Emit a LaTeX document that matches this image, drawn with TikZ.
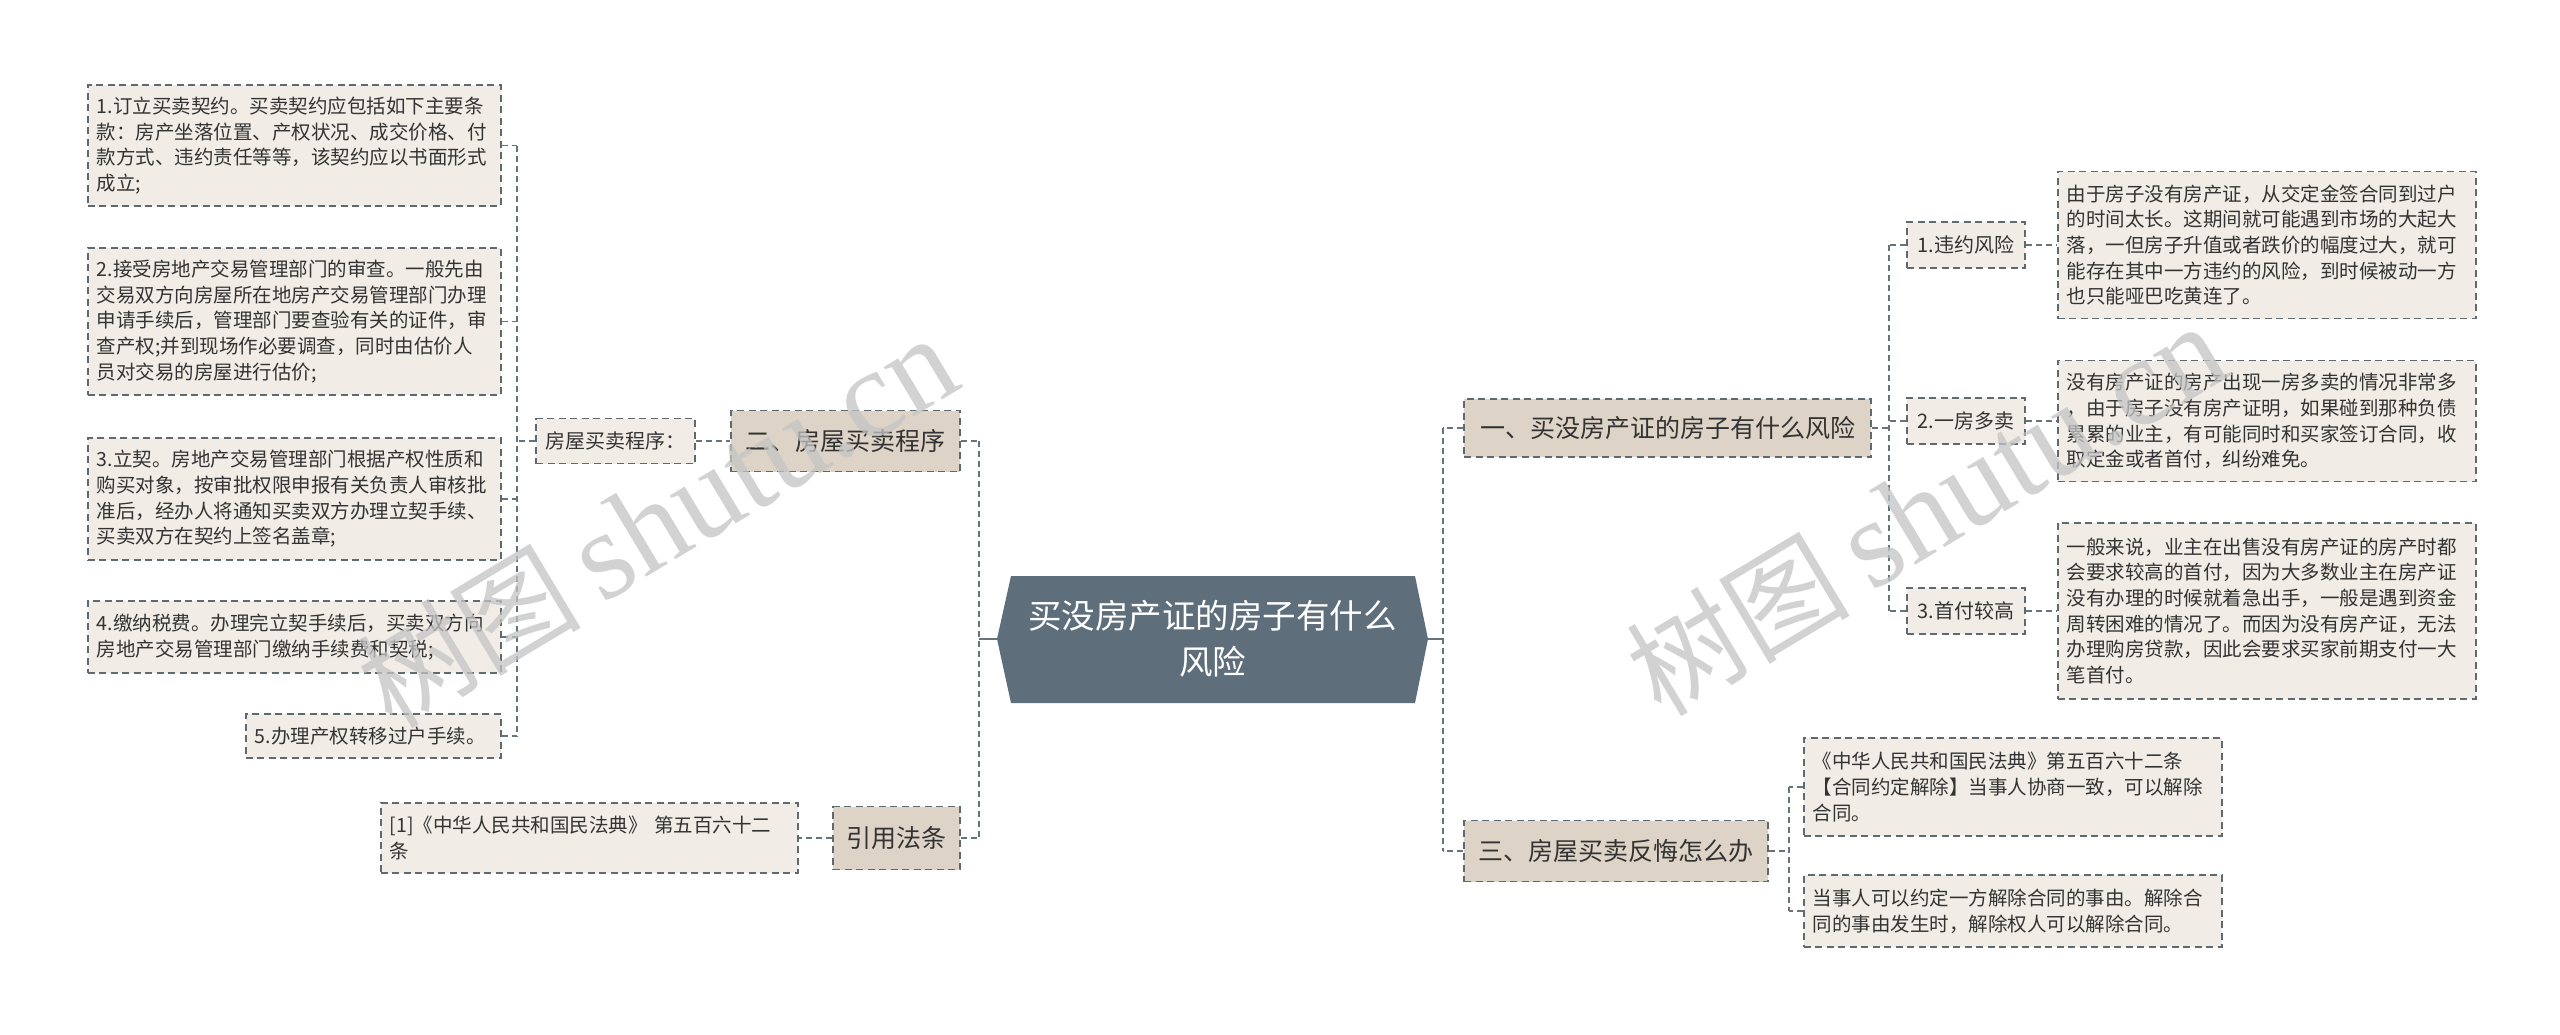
\documentclass[tikz,border=0pt]{standalone}
\usepackage{fontspec}
\setmainfont{Noto Sans CJK SC}
\newfontfamily\wmserif{Liberation Serif}
\definecolor{leaffill}{HTML}{F1EDE6}
\definecolor{lvlfill}{HTML}{DDD4C7}
\definecolor{bordergray}{HTML}{5F6A70}
\definecolor{linegray}{HTML}{66737B}
\definecolor{rootfill}{HTML}{5E6F7B}
\definecolor{txtgray}{HTML}{333333}
\definecolor{wmgray}{HTML}{C4C4C4}
\begin{document}
\begin{tikzpicture}[x=1pt,y=-1pt,
  box/.style={draw=bordergray, line width=1.6pt, dash pattern=on 7pt off 4.5pt, text=txtgray},
  leaf/.style={box, fill=leaffill, align=left, inner xsep=9pt, inner ysep=6pt, font=\fontsize{19.5}{25.7}\selectfont, anchor=west},
  lvlone/.style={box, fill=lvlfill, font=\fontsize{25}{30}\selectfont, inner sep=0pt},
  lvltwo/.style={box, fill=leaffill, font=\fontsize{20}{24}\selectfont, inner sep=0pt},
  conn/.style={draw=linegray, line width=1.8pt, dash pattern=on 6pt off 4pt},
  stub/.style={draw=linegray, line width=2pt},
  wmark/.style={rotate=31, text=wmgray, opacity=0.75, inner sep=0pt}
]
\useasboundingbox (0,0) rectangle (2560,1034);
\fill[white] (0,0) rectangle (2560,1034);

% root
\fill[rootfill] (997,639) -- (1011,576) -- (1415,576) -- (1428,639) -- (1415,703) -- (1011,703) -- cycle;
\node[text=white, font=\fontsize{33.5}{46}\selectfont, align=center, minimum width=431pt, minimum height=127pt, inner sep=0pt, outer sep=0pt] (root) at (1212.5,639) {买没房产证的房子有什么\\风险};

% level one
\node[lvlone, minimum width=229pt, minimum height=61pt] (n2) at (845.5,441) {二、房屋买卖程序};
\node[lvlone, minimum width=127pt, minimum height=63pt] (yin) at (896.5,838) {引用法条};
\node[lvlone, minimum width=407pt, minimum height=58pt] (n1) at (1667.5,428) {一、买没房产证的房子有什么风险};
\node[lvlone, minimum width=304pt, minimum height=61pt] (n3) at (1616,851) {三、房屋买卖反悔怎么办};

% level two
\node[lvltwo, minimum width=159pt, minimum height=45pt] (cx) at (615.5,441) {房屋买卖程序：};
\node[lvltwo, minimum width=118pt, minimum height=46pt] (r1) at (1966,245) {1.违约风险};
\node[lvltwo, minimum width=118pt, minimum height=46pt] (r2) at (1966,421) {2.一房多卖};
\node[lvltwo, minimum width=118pt, minimum height=46pt] (r3) at (1966,611) {3.首付较高};

% left leaves
\node[leaf, text width=395pt, minimum height=121pt] (L1) at (87,145.5) {1.订立买卖契约。买卖契约应包括如下主要条\\款：房产坐落位置、产权状况、成交价格、付\\款方式、违约责任等等，该契约应以书面形式\\成立;};
\node[leaf, text width=395pt, minimum height=147pt] (L2) at (87,321.5) {2.接受房地产交易管理部门的审查。一般先由\\交易双方向房屋所在地房产交易管理部门办理\\申请手续后，管理部门要查验有关的证件，审\\查产权;并到现场作必要调查，同时由估价人\\员对交易的房屋进行估价;};
\node[leaf, text width=395pt, minimum height=122pt] (L3) at (87,499) {3.立契。房地产交易管理部门根据产权性质和\\购买对象，按审批权限申报有关负责人审核批\\准后，经办人将通知买卖双方办理立契手续、\\买卖双方在契约上签名盖章;};
\node[leaf, text width=395pt, minimum height=72pt] (L4) at (87,637) {4.缴纳税费。办理完立契手续后，买卖双方向\\房地产交易管理部门缴纳手续费和契税;};
\node[leaf, text width=237pt, minimum height=44pt] (L5) at (245,736) {5.办理产权转移过户手续。};
\node[leaf, text width=399pt, minimum height=70pt] (ref) at (380,838) {[1]《中华人民共和国民法典》 第五百六十二\\条};

% right leaves
\node[leaf, text width=400pt, minimum height=147pt] (T1) at (2057,245) {由于房子没有房产证，从交定金签合同到过户\\的时间太长。这期间就可能遇到市场的大起大\\落，一但房子升值或者跌价的幅度过大，就可\\能存在其中一方违约的风险，到时候被动一方\\也只能哑巴吃黄连了。};
\node[leaf, text width=400pt, minimum height=121pt] (T2) at (2057,421) {没有房产证的房产出现一房多卖的情况非常多\\，由于房子没有房产证明，如果碰到那种负债\\累累的业主，有可能同时和买家签订合同，收\\取定金或者首付，纠纷难免。};
\node[leaf, text width=400pt, minimum height=176pt] (T3) at (2057,611) {一般来说，业主在出售没有房产证的房产时都\\会要求较高的首付，因为大多数业主在房产证\\没有办理的时候就着急出手，一般是遇到资金\\周转困难的情况了。而因为没有房产证，无法\\办理购房贷款，因此会要求买家前期支付一大\\笔首付。};
\node[leaf, text width=400pt, minimum height=98pt] (A) at (1803,787) {《中华人民共和国民法典》第五百六十二条\\【合同约定解除】当事人协商一致，可以解除\\合同。};
\node[leaf, text width=400pt, minimum height=72pt] (B) at (1803,911) {当事人可以约定一方解除合同的事由。解除合\\同的事由发生时，解除权人可以解除合同。};

% bus coordinates
\coordinate (bL) at (979,639);
\coordinate (bR) at (1443,639);
\coordinate (bLL) at (517,441);
\coordinate (b1) at (1889,428);
\coordinate (b3) at (1789,851);

% root stubs
\draw[stub] (root.west) -- (bL);
\draw[stub] (root.east) -- (bR);
% main left bus
\draw[conn] (n2.east -| bL) -- (yin.east -| bL);
\draw[conn] (n2.east) -- (n2.east -| bL);
\draw[conn] (yin.east) -- (yin.east -| bL);
% main right bus
\draw[conn] (n1.west -| bR) -- (n3.west -| bR);
\draw[conn] (n1.west) -- (n1.west -| bR);
\draw[conn] (n3.west) -- (n3.west -| bR);
% procedure branch
\draw[conn] (cx.east) -- (n2.west);
\draw[conn] (cx.west) -- (bLL);
\draw[conn] (L1.east -| bLL) -- (L5.east -| bLL);
\draw[conn] (L1.east) -- (L1.east -| bLL);
\draw[conn] (L2.east) -- (L2.east -| bLL);
\draw[conn] (L3.east) -- (L3.east -| bLL);
\draw[conn] (L4.east) -- (L4.east -| bLL);
\draw[conn] (L5.east) -- (L5.east -| bLL);
% citation
\draw[conn] (yin.west) -- (ref.east);
% risk branch
\draw[conn] (n1.east) -- (b1);
\draw[conn] (r1.west -| b1) -- (r3.west -| b1);
\draw[conn] (r1.west) -- (r1.west -| b1);
\draw[conn] (r2.west) -- (r2.west -| b1);
\draw[conn] (r3.west) -- (r3.west -| b1);
\draw[conn] (r1.east) -- (T1.west);
\draw[conn] (r2.east) -- (T2.west);
\draw[conn] (r3.east) -- (T3.west);
% regret branch
\draw[conn] (n3.east) -- (b3);
\draw[conn] (A.west -| b3) -- (B.west -| b3);
\draw[conn] (A.west) -- (A.west -| b3);
\draw[conn] (B.west) -- (B.west -| b3);

% watermarks
\node[wmark] (wm1) at (657,522) {{\fontsize{112}{112}\selectfont 树图}\hspace{22pt}{\wmserif\fontsize{126}{126}\selectfont shutu.cn}};
\node[wmark] (wm2) at (1926,510) {{\fontsize{112}{112}\selectfont 树图}\hspace{22pt}{\wmserif\fontsize{126}{126}\selectfont shutu.cn}};
\end{tikzpicture}
\end{document}
